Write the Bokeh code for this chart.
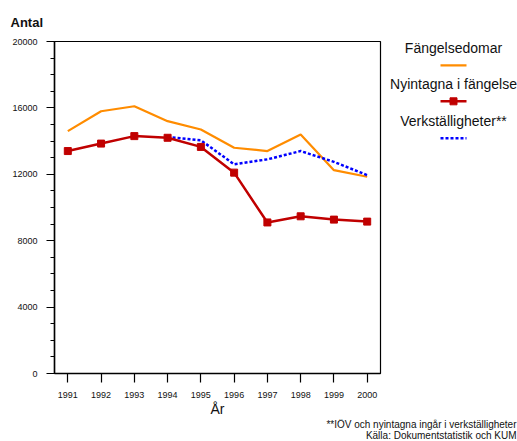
from bokeh.plotting import figure
from bokeh.layouts import row, column
from bokeh.models import Range1d, FixedTicker, SingleIntervalTicker, Title
from bokeh.core.properties import value
from bokeh.embed import file_html
from bokeh.resources import INLINE

nan = float("nan")

# ---- data ----
years = [1991, 1992, 1993, 1994, 1995, 1996, 1997, 1998, 1999, 2000]
fangelsedomar = [14600, 15800, 16100, 15200, 14700, 13600, 13400, 14400, 12250, 11850]
nyintagna = [13400, 13850, 14300, 14200, 13650, 12100, 9100, 9470, 9270, 9150]
verkstalligheter = [nan, nan, nan, 14250, 14050, 12600, 12900, 13400, 12750, 11950]

series_names = ["Fängelsedomar", "Nyintagna i fängelse", "Verkställigheter**"]
colors = ["#FF8C00", "#C00000", "#0000FF"]
footnotes = ["**IÖV och nyintagna ingår i verkställigheter", "Källa: Dokumentstatistik och KUM"]

FONT = "Liberation Sans"
TXT = "#111111"

# frame geometry (page pixels)
FL, FR, FT, FB = 54, 380, 41, 374
MW, MH = 382, 419

# ---- main chart ----
p = figure(width=MW, height=MH, x_range=Range1d(1990.6, 2000.4), y_range=Range1d(0, 20000),
           output_backend="svg", toolbar_location=None,
           min_border_left=FL, min_border_right=MW - FR, min_border_top=FT, min_border_bottom=MH - FB)
p.xgrid.visible = False
p.ygrid.visible = False
p.outline_line_color = "black"
p.outline_line_width = 1.2
p.border_fill_color = "white"

t = Title(text="Antal", align="left", offset=-44, standoff=23, text_font=FONT,
          text_font_size="13px", text_font_style="bold", text_color=TXT)
p.add_layout(t, "above")

xa = p.xaxis[0]
xa.ticker = FixedTicker(ticks=years)
xa.major_tick_out = 9
xa.major_tick_in = 0
xa.minor_tick_out = 0
xa.axis_line_color = "black"
xa.axis_line_width = 1.5
xa.major_tick_line_width = 1.2
xa.major_label_text_font = FONT
xa.major_label_text_font_size = "9px"
xa.major_label_text_color = TXT
xa.major_label_standoff = 9
xa.axis_label = "År"
xa.axis_label_text_font = FONT
xa.axis_label_text_font_size = "14px"
xa.axis_label_text_font_style = "normal"
xa.axis_label_text_color = TXT
xa.axis_label_standoff = 0

ya = p.yaxis[0]
ya.ticker = SingleIntervalTicker(interval=4000, num_minor_ticks=4)
ya.major_tick_out = 8
ya.major_tick_in = 0
ya.minor_tick_out = 4
ya.minor_tick_in = 0
ya.axis_line_color = "black"
ya.axis_line_width = 1.5
ya.major_tick_line_width = 1.2
ya.minor_tick_line_width = 1.2
ya.major_label_text_font = FONT
ya.major_label_text_font_size = "9px"
ya.major_label_text_color = TXT
ya.major_label_standoff = 9

p.line(years, fangelsedomar, line_color=colors[0], line_width=2.2)
p.line(years, verkstalligheter, line_color=colors[2], line_width=2.5, line_dash="3 2")
p.line(years, nyintagna, line_color=colors[1], line_width=2.5)
p.scatter(years, nyintagna, marker="square", size=7, fill_color=colors[1], line_color=colors[1])

# ---- legend panel (page-pixel coordinates, y downward) ----
LW = 517 - MW
lg = figure(width=LW, height=MH, x_range=Range1d(MW, 517), y_range=Range1d(FB, FT),
            output_backend="svg", toolbar_location=None,
            min_border_left=0, min_border_right=0, min_border_top=FT, min_border_bottom=MH - FB)
lg.axis.visible = False
lg.grid.visible = False
lg.outline_line_color = None
lg.border_fill_color = "white"

leg_cx = 453
leg_text_y = [48, 84, 121]
leg_line_y = [65, 101, 138]
dashes = ["solid", "solid", "3 2"]
widths = [2.2, 2.5, 2.5]
lg.text(x=[leg_cx] * 3, y=leg_text_y, text=series_names, text_font=value(FONT),
        text_font_size="14px", text_align="center", text_baseline="middle", text_color=TXT)
for i in range(3):
    lg.line([440, 466], [leg_line_y[i]] * 2, line_color=colors[i],
            line_width=widths[i], line_dash=dashes[i])
lg.scatter([leg_cx], [leg_line_y[1]], marker="square", size=7,
           fill_color=colors[1], line_color=colors[1])

# ---- footer ----
FW, FH = 517, 441 - MH
ft = figure(width=FW, height=FH, x_range=Range1d(0, FW), y_range=Range1d(441, MH),
            output_backend="svg", toolbar_location=None,
            min_border_left=0, min_border_right=0, min_border_top=0, min_border_bottom=0)
ft.axis.visible = False
ft.grid.visible = False
ft.outline_line_color = None
ft.border_fill_color = "white"
ft.text(x=[516, 516], y=[424, 435], text=footnotes, text_font=value(FONT),
        text_font_size="10px", text_align="right", text_baseline="middle", text_color=TXT)

layout = column(row(p, lg), ft)
open("out.html", "w").write(file_html(layout, INLINE))
